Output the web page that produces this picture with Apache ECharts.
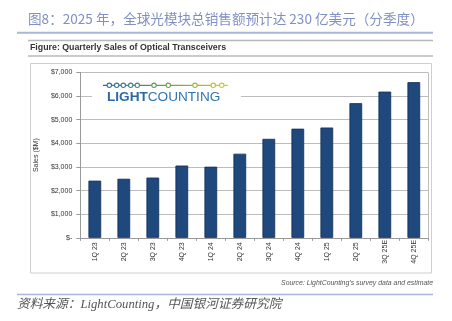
<!DOCTYPE html>
<html>
<head>
<meta charset="utf-8">
<script src="https://cdn.jsdelivr.net/npm/echarts@6/dist/echarts.min.js"></script>
<style>
html,body{margin:0;padding:0;background:#fff;}
#c{width:452px;height:321px;}
</style>
</head>
<body>
<div id="c"></div>
<script>
const categories = ['1Q 23','2Q 23','3Q 23','4Q 23','1Q 24','2Q 24','3Q 24','4Q 24','1Q 25','2Q 25','3Q 25E','4Q 25E'];
const sales = [2420, 2500, 2550, 3060, 3010, 3560, 4190, 4620, 4670, 5700, 6190, 6590];
const yMax = 7000;
const yStep = 1000;
const headerTitle = '图8：2025 年，全球光模块总销售额预计达 230 亿美元（分季度）';
const figureTitle = 'Figure: Quarterly Sales of Optical Transceivers';
const yName = 'Sales ($M)';
const sourceText = 'Source: LightCounting\u2019s survey data and estimate';
const footText = '资料来源：LightCounting，中国银河证券研究院';
const logoDots = [109.3, 116.7, 123.3, 130.7, 137.3, 154, 168.3, 195, 213.3, 221.7];

const chart = echarts.init(document.getElementById('c'), null, {renderer:'canvas'});

function dotColor(x){
  const t = (x - 103) / 125;
  const stops = [[0,[42,106,168]],[0.5,[106,160,80]],[1,[222,206,40]]];
  let a = stops[0], b = stops[1];
  if (t > 0.5) { a = stops[1]; b = stops[2]; }
  const u = Math.max(0, Math.min(1, (t - a[0]) / (b[0] - a[0])));
  const c = a[1].map((v,i)=>Math.round(v + (b[1][i]-v)*u));
  return 'rgb(' + c.join(',') + ')';
}

const graphics = [
  {type:'text', left:28, top:12, style:{text:headerTitle, font:'13.6px "Noto Sans CJK SC", sans-serif', fill:'#8090c4'}},
  {type:'line', shape:{x1:17,y1:32.7,x2:433,y2:32.7}, style:{stroke:'#a9b6da', lineWidth:2}},
  {type:'line', shape:{x1:28,y1:40.5,x2:433,y2:40.5}, style:{stroke:'#b8b8b8', lineWidth:1.5}},
  {type:'text', left:30, top:43, style:{text:figureTitle, font:'bold 8.8px "Liberation Sans", Arial, sans-serif', fill:'#333'}},
  {type:'line', shape:{x1:28,y1:56,x2:433,y2:56}, style:{stroke:'#b8b8b8', lineWidth:1.5}},
  {type:'rect', shape:{x:30.5,y:63.5,width:401,height:209.5}, style:{stroke:'#cfcfcf', fill:null, lineWidth:1}},
  {type:'rect', z:10, shape:{x:92,y:77,width:149,height:29}, style:{fill:'#fff'}},
  {type:'line', z:11, shape:{x1:103,y1:85.3,x2:228,y2:85.3}, style:{lineWidth:1.2, stroke:new echarts.graphic.LinearGradient(0,0,1,0,[{offset:0,color:'#2a6aa8'},{offset:0.5,color:'#6aa050'},{offset:1,color:'#dece28'}])}},
  {type:'text', z:12, left:107, top:90.5, style:{text:'{b|LIGHT}{n|COUNTING}', rich:{
    b:{font:'bold 13.6px "Liberation Sans", Arial, sans-serif', fill:'#2b69a5'},
    n:{font:'13.6px "Liberation Sans", Arial, sans-serif', fill:'#2f74b2'}}}},
  {type:'text', right:19, top:279.5, style:{text:sourceText, font:'italic 6.9px "Liberation Sans", Arial, sans-serif', fill:'#555'}},
  {type:'line', shape:{x1:17,y1:294.5,x2:433,y2:294.5}, style:{stroke:'#a9b6da', lineWidth:1.5}},
  {type:'text', left:17, top:298.5, style:{text:footText, font:'italic 12.7px "Liberation Serif", "Noto Sans CJK SC", serif', fill:'#555'}}
];
logoDots.forEach(x => graphics.push({type:'circle', z:12, shape:{cx:x, cy:85.3, r:2.2}, style:{fill:'#fff', stroke:dotColor(x), lineWidth:1.1}}));
graphics.push({type:'line', shape:{x1:428.5,y1:72.5,x2:428.5,y2:237.8}, style:{stroke:'#bdbdbd', lineWidth:1}});

chart.setOption({
  animation:false,
  backgroundColor:'#fff',
  grid:{left:80.3, right:23.7, top:72.5, bottom:83.2, containLabel:false},
  xAxis:{
    type:'category', data:categories,
    axisLine:{lineStyle:{color:'#999', width:1}},
    axisTick:{show:true, alignWithLabel:false, length:3, lineStyle:{color:'#999'}},
    axisLabel:{rotate:90, align:'center', verticalAlign:'middle', margin:14, fontSize:7, color:'#333', fontFamily:'"Liberation Sans", Arial, sans-serif', interval:0}
  },
  yAxis:{
    type:'value', min:0, max:yMax, interval:yStep,
    name:yName, nameLocation:'middle', nameGap:41, nameRotate:90,
    nameTextStyle:{fontSize:7, color:'#333', fontFamily:'"Liberation Sans", Arial, sans-serif'},
    axisLine:{show:true, lineStyle:{color:'#999'}},
    axisTick:{show:true, length:4, lineStyle:{color:'#999'}},
    splitLine:{lineStyle:{color:'#bdbdbd', width:1}},
    axisLabel:{fontSize:7, color:'#333', margin:8, fontFamily:'"Liberation Sans", Arial, sans-serif',
      formatter:v => v === 0 ? '$-' : '$' + v.toLocaleString('en-US')}
  },
  series:[{
    type:'bar', data:sales, barWidth:12.7,
    itemStyle:{color:'#1f487c', borderColor:'#112f55', borderWidth:0.8}
  }],
  graphic:graphics
});
</script>
</body>
</html>
